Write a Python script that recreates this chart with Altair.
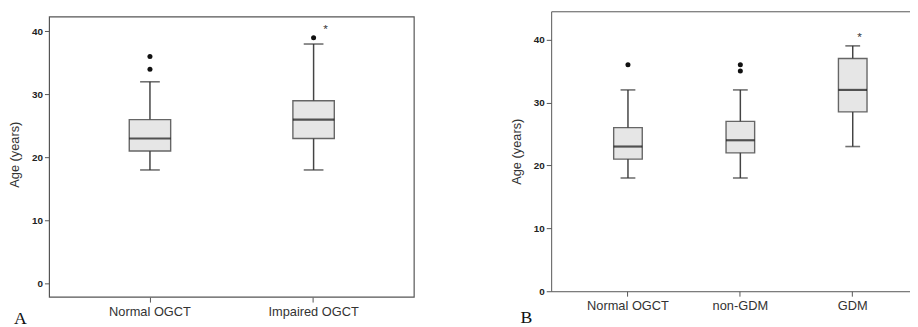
import altair as alt
import pandas as pd

# ---- Panel A data ----
a_groups = ["Normal OGCT", "Impaired OGCT"]
a_low = [18, 18]
a_q1 = [21, 23]
a_med = [23, 26]
a_q3 = [26, 29]
a_high = [32, 38]
a_out_group = ["Normal OGCT", "Normal OGCT", "Impaired OGCT"]
a_out_val = [34, 36, 39]
a_star_group = ["Impaired OGCT"]
a_star_val = [39]

# ---- Panel B data ----
b_groups = ["Normal OGCT", "non-GDM", "GDM"]
b_low = [18, 18, 23]
b_q1 = [21, 22, 28.5]
b_med = [23, 24, 32]
b_q3 = [26, 27, 37]
b_high = [32, 32, 39]
b_out_group = ["Normal OGCT", "non-GDM", "non-GDM"]
b_out_val = [36, 35, 36]
b_star_group = ["GDM"]
b_star_val = [39]

y_ticks = [0, 10, 20, 30, 40]
FONT = "Liberation Sans"
EDGE = "#555555"


def panel(groups, low, q1, med, q3, high, og, ov, sg, sv, ydom, width, height,
          po, align, box, cap, letter, letter_x, letter_y, star_dx, frame):
    df = pd.DataFrame({"group": groups, "low": low, "q1": q1, "med": med,
                       "q3": q3, "high": high})
    dfo = pd.DataFrame({"group": og, "val": ov})
    dfs = pd.DataFrame({"group": sg, "val": sv, "t": ["*"] * len(sg)})
    dfl = pd.DataFrame({"t": [letter]})
    framed = frame is not None

    xs = alt.Scale(domain=groups, paddingInner=0, paddingOuter=po, align=align)
    ys = alt.Scale(domain=ydom, nice=False, zero=False)

    xax = alt.Axis(title=None, labelAngle=0, labelFontSize=13, labelColor="#333",
                   labelFont=FONT, tickSize=5, tickColor=EDGE, tickWidth=1,
                   domain=not framed, domainColor=EDGE, labelPadding=4, grid=False)
    yax = alt.Axis(title="Age (years)", values=y_ticks, labelFontWeight="bold",
                   labelFontSize=10, labelColor="#222", labelFont=FONT,
                   tickSize=5, tickColor=EDGE, labelPadding=2, titlePadding=10,
                   titleFontSize=13, titleFontWeight="normal", titleColor="#333",
                   titleFont=FONT, grid=False, domain=not framed, domainColor=EDGE)

    def X(show):
        return alt.X("group:N", scale=xs, axis=xax if show else None)

    def Y(f):
        return alt.Y(f, scale=ys, axis=yax)

    base = alt.Chart(df)
    whisk_lo = base.mark_rule(color="#444", strokeWidth=1.5).encode(
        x=X(False), y=Y("low:Q"), y2="q1:Q")
    whisk_hi = base.mark_rule(color="#444", strokeWidth=1.5).encode(
        x=X(False), y=Y("q3:Q"), y2="high:Q")
    cap_lo = base.mark_tick(color="#333", size=cap, thickness=1.6).encode(
        x=X(False), y=Y("low:Q"))
    cap_hi = base.mark_tick(color="#333", size=cap, thickness=1.6).encode(
        x=X(False), y=Y("high:Q"))
    boxes = base.mark_bar(size=box, fill="#e6e6e6", stroke="#666",
                          strokeWidth=1.4).encode(
        x=X(True), y=Y("q1:Q"), y2="q3:Q")
    medians = base.mark_tick(color="#111", size=box, thickness=2.2).encode(
        x=X(False), y=Y("med:Q"))
    outl = alt.Chart(dfo).mark_circle(size=26, color="#111", opacity=1).encode(
        x=X(False), y=Y("val:Q"))
    star = alt.Chart(dfs).mark_text(fontSize=12, font=FONT, color="#333",
                                    dx=star_dx, dy=-5, baseline="alphabetic").encode(
        x=X(False), y=Y("val:Q"), text="t:N")
    lett = alt.Chart(dfl).mark_text(font="Liberation Serif", fontSize=18,
                                    align="left", baseline="alphabetic",
                                    color="#111").encode(
        x=alt.value(letter_x), y=alt.value(letter_y), text="t:N")

    layers = [boxes, whisk_lo, whisk_hi, cap_lo, cap_hi, medians, outl, star, lett]
    if framed:
        # box frame of panel A, spanning its visible value range
        rect = alt.Chart(dfl).mark_rect(fill=None, stroke=EDGE, strokeWidth=1.2).encode(
            x=alt.value(0), x2=alt.value("width"),
            y=alt.Y(datum=frame[1], scale=ys, axis=yax), y2=alt.Y2(datum=frame[0]))
        layers.insert(0, rect)
    else:
        top = base.mark_tick(opacity=0).encode(
            x=alt.X("group:N", scale=xs,
                    axis=alt.Axis(orient="top", labels=False, ticks=False,
                                  domain=True, domainColor=EDGE, title=None,
                                  grid=False, minExtent=0, maxExtent=0,
                                  labelPadding=0, offset=0)),
            y=Y("q1:Q"))
        layers.append(top)

    return alt.layer(*layers).resolve_axis(x="independent").properties(
        width=width, height=height)


# Panel A: visible frame spans -2.2 .. 42.3; plot area extends slightly higher
a_frame = [-2.2, 42.3]
pa = panel(a_groups, a_low, a_q1, a_med, a_q3, a_high, a_out_group, a_out_val,
           a_star_group, a_star_val, [-2.2, 43.2], 370, 290, 0.1145, 0.5,
           42, 20, "A", -36, 317, 12, a_frame)
pb = panel(b_groups, b_low, b_q1, b_med, b_q3, b_high, b_out_group, b_out_val,
           b_star_group, b_star_val, [0, 44.5], 364, 284, 0.0965, 0.95,
           29, 15, "B", -31, 316, 7, None)

chart = alt.hconcat(pa, pb, spacing=96).properties(
    padding={"left": 0, "top": 1, "right": 0, "bottom": 0},
    background="white"
).configure_view(stroke=None)

chart.save("out.html", embed_options={"renderer": "svg", "actions": False})
